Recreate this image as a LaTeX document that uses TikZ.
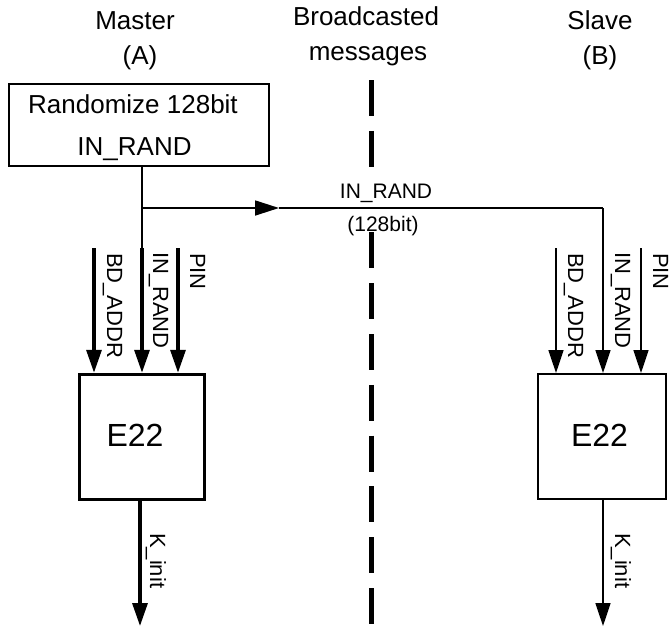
\documentclass[tikz,border=0pt]{standalone}
\usepackage{fontspec}
\setmainfont{Liberation Sans}
\usetikzlibrary{arrows.meta}
\begin{document}
\begin{tikzpicture}[x=1pt,y=-1pt,
  hdr/.style={inner sep=0pt, anchor=base, font=\fontsize{26}{30}\selectfont},
  boxtxt/.style={inner sep=0pt, anchor=base, font=\fontsize{26}{30}\selectfont},
  etxt/.style={inner sep=0pt, font=\fontsize{32}{36}\selectfont},
  sidelbl/.style={inner sep=0pt, rotate=-90, anchor=base west, font=\fontsize{22}{26}\selectfont},
  msglbl/.style={inner sep=0pt, anchor=base, font=\fontsize{21}{25}\selectfont},
  headtip/.style={-{Triangle[length=23pt,width=15pt]}},
  fatline/.style={line width=3.3pt},
  slimline/.style={line width=1.7pt},
  boxthin/.style={draw, line width=1.7pt, inner sep=0pt},
]
\useasboundingbox (0,0) rectangle (669,627);
\fill[white] (0,0) rectangle (669,627);

% headers
\node[hdr] (master) at (135,29) {Master};
\node[hdr] (mA) at (140,64.5) {(A)};
\node[hdr] (bcast) at (366,25) {Broadcasted};
\node[hdr] (msgs) at (368,60) {messages};
\node[hdr] (slave) at (600,29) {Slave};
\node[hdr] (sB) at (600,64.5) {(B)};

% broadcast divider
\coordinate (dtop) at (371,80);
\coordinate (dgapa) at (371,166.8);
\coordinate (dgapb) at (371,232.4);
\coordinate (dbot) at (371,627);
\draw[line width=5pt, dash pattern=on 36pt off 14.8pt] (dtop) -- (dgapa) (dgapb) -- (dbot);

% randomize box
\node[boxthin, minimum width=260pt, minimum height=82pt] (rnd) at (139,125) {};
\node[boxtxt] (rndt1) at (133,113) {Randomize 128bit};
\node[boxtxt] (rndt2) at (134.5,155) {IN\_RAND};

% E22 boxes
\node[draw, line width=3.5pt, inner sep=0pt, minimum width=125pt, minimum height=125pt] (eA) at (142,437) {};
\node[etxt] (eAt) at (135,435) {E22};
\node[draw, line width=2pt, inner sep=0pt, minimum width=128pt, minimum height=125pt] (eB) at (602,436.5) {};
\node[etxt] (eBt) at (599.5,435) {E22};

% coordinates
\coordinate (inA) at (142,248);
\coordinate (bdA) at (94,248);
\coordinate (pinA) at (178,248);
\coordinate (jn) at (142,208);
\coordinate (mid) at (279,208);
\coordinate (cr) at (603,208);
\coordinate (bdB) at (556,248);
\coordinate (pinB) at (641,248);
\coordinate (koA) at (140,626);
\coordinate (koB) at (603,626);

% master side
\draw[slimline] (rnd.south -| inA) -- (inA);
\draw[fatline, headtip] (bdA) -- (bdA |- eA.north);
\draw[fatline, headtip] (inA) -- (inA |- eA.north);
\draw[fatline, headtip] (pinA) -- (pinA |- eA.north);
\draw[fatline, headtip] (koA |- eA.south) -- (koA);

% broadcast
\draw[slimline, -{Triangle[length=24pt,width=15pt]}] (jn) -- (mid);
\draw[slimline] (mid) -- (cr);
\node[msglbl] (msgt1) at (386,198) {IN\_RAND};
\node[msglbl] (msgt2) at (383,231) {(128bit)};

% slave side
\draw[slimline, headtip] (bdB) -- (bdB |- eB.north);
\draw[slimline, headtip] (cr) -- (cr |- eB.north);
\draw[slimline, headtip] (pinB) -- (pinB |- eB.north);
\draw[slimline, headtip] (koB |- eB.south) -- (koB);

% side labels
\node[sidelbl] (lbdA) at (107,253) {BD\_ADDR};
\node[sidelbl] (linA) at (153,252) {IN\_RAND};
\node[sidelbl] (lpinA) at (190,253) {PIN};
\node[sidelbl] (lkA) at (150,533) {K\_init};
\node[sidelbl] (lbdB) at (568,253) {BD\_ADDR};
\node[sidelbl] (linB) at (615,252) {IN\_RAND};
\node[sidelbl] (lpinB) at (653,253) {PIN};
\node[sidelbl] (lkB) at (615,533) {K\_init};
\end{tikzpicture}
\end{document}
